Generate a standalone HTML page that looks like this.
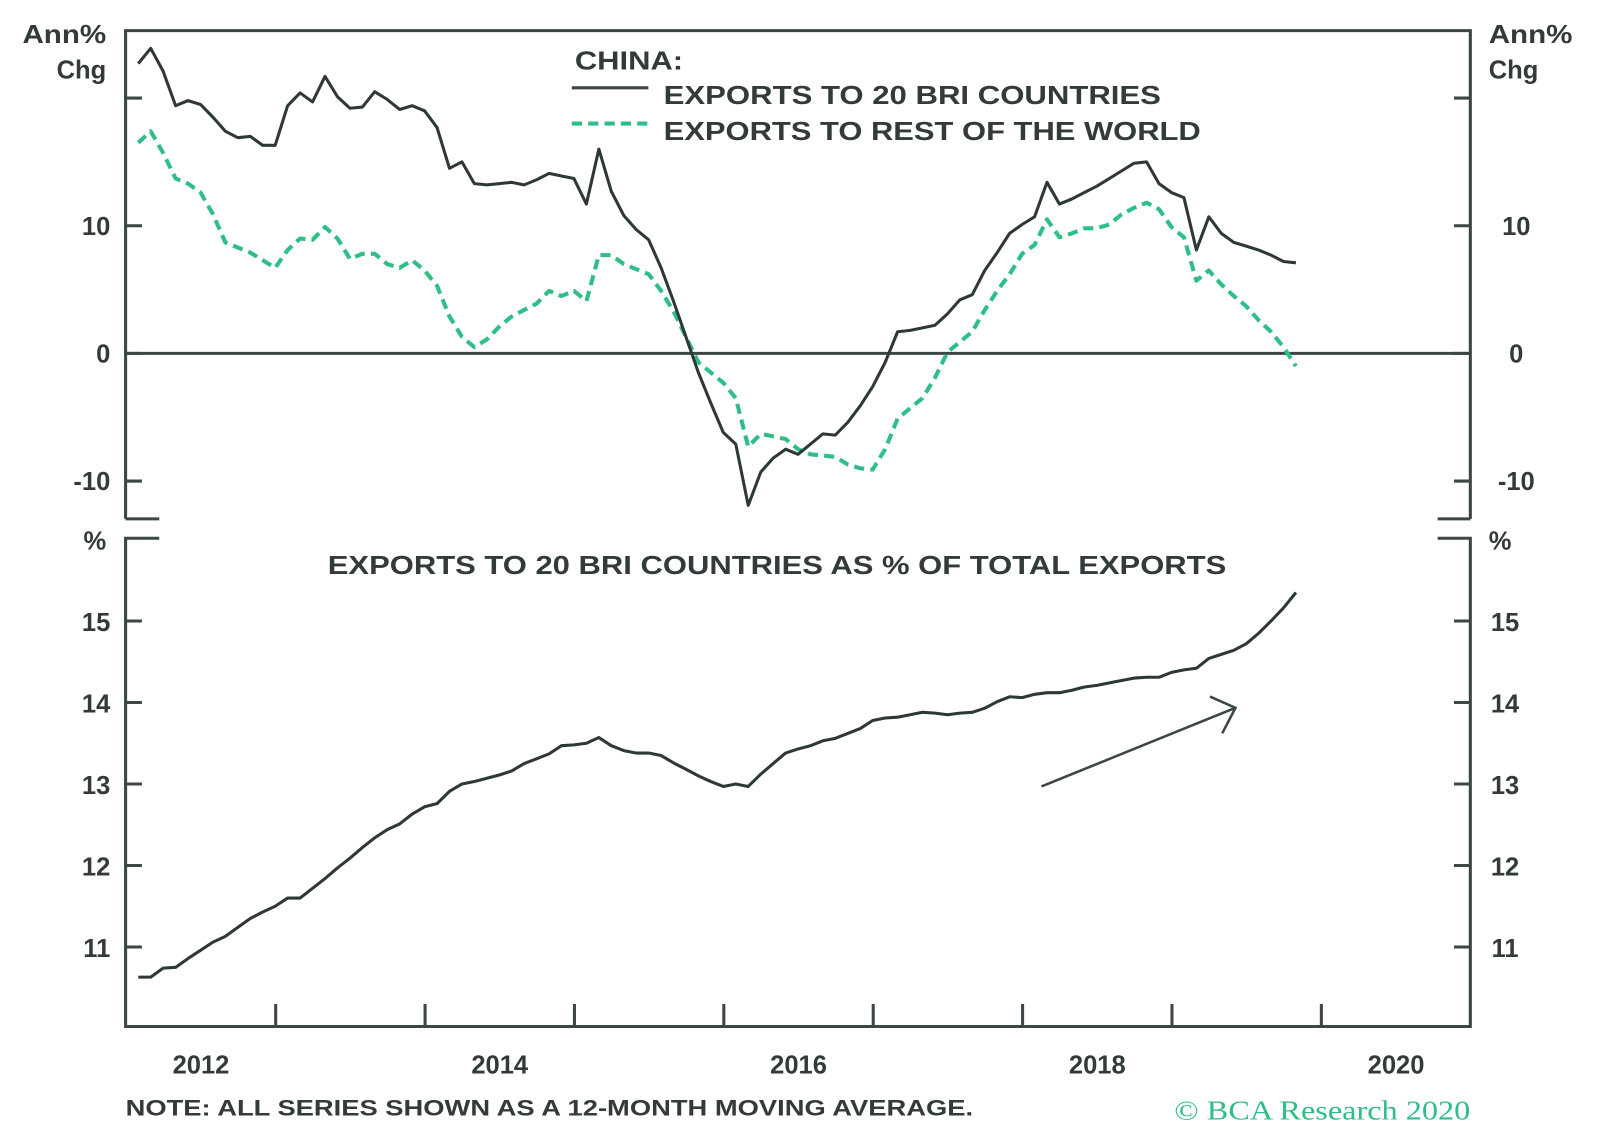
<!DOCTYPE html>
<html><head><meta charset="utf-8">
<style>
body{margin:0;background:#fff;}
svg{display:block;font-family:"Liberation Sans",sans-serif;}
.t{fill:#333a3a;font-weight:bold;font-size:25px;}
</style></head>
<body>
<svg id="chart" width="1600" height="1147" viewBox="0 0 1567 1123" preserveAspectRatio="none" xmlns="http://www.w3.org/2000/svg">
<g id="frame" stroke="#3c4646" stroke-width="3" fill="none">
<polyline points="123,508 123,30 1440,30 1440,508"/>
<line x1="123" y1="508" x2="156" y2="508"/><line x1="1408" y1="508" x2="1440" y2="508"/>
<polyline points="156,527 123,527 123,1005 1440,1005 1440,527 1408,527"/>
</g>
<g id="ticks" stroke="#3c4646" stroke-width="3"></g>
<line x1="123" y1="346" x2="1440" y2="346" stroke="#3c4646" stroke-width="3"/>
<g id="series"></g>
<g id="labels"></g>
<text class="t" x="104" y="42" text-anchor="end" textLength="82" lengthAdjust="spacingAndGlyphs">Ann%</text>
<text class="t" x="104" y="77" text-anchor="end">Chg</text>
<text class="t" x="1458" y="42" textLength="82" lengthAdjust="spacingAndGlyphs">Ann%</text>
<text class="t" x="1458" y="77">Chg</text>
<text class="t" x="104" y="538" text-anchor="end">%</text>
<text class="t" x="1458" y="538">%</text>
<g>
<text class="t" x="563" y="68" textLength="106" lengthAdjust="spacingAndGlyphs">CHINA:</text>
<line x1="560" y1="86" x2="635" y2="86" stroke="#3c4646" stroke-width="3"/>
<text class="t" x="650" y="102" textLength="487" lengthAdjust="spacingAndGlyphs">EXPORTS TO 20 BRI COUNTRIES</text>
<line x1="560" y1="121" x2="635" y2="121" stroke="#2fbf86" stroke-width="4" stroke-dasharray="10,6"/>
<text class="t" x="650" y="137" textLength="526" lengthAdjust="spacingAndGlyphs">EXPORTS TO REST OF THE WORLD</text>
</g>
<text class="t" x="321" y="562" textLength="880" lengthAdjust="spacingAndGlyphs">EXPORTS TO 20 BRI COUNTRIES AS % OF TOTAL EXPORTS</text>
<g stroke="#3c4646" stroke-width="2.5" fill="none">
<line x1="1020" y1="770" x2="1210" y2="693"/>
<polyline points="1185,682 1210,693 1197,718"/>
</g>
<text x="123" y="1092" fill="#333a3a" font-weight="bold" font-size="22" textLength="830" lengthAdjust="spacingAndGlyphs">NOTE: ALL SERIES SHOWN AS A 12-MONTH MOVING AVERAGE.</text>
<text x="1150" y="1096" fill="#2fbf86" font-family="Liberation Serif, serif" font-size="27" textLength="290" lengthAdjust="spacingAndGlyphs">© BCA Research 2020</text>
</svg>
<script>
const briGrowth=[22.7,23.9,22.1,19.4,19.8,19.5,18.5,17.4,16.9,17.0,16.3,16.3,19.4,20.4,19.7,21.7,20.1,19.2,19.3,20.5,19.9,19.1,19.4,19.0,17.7,14.5,15.0,13.3,13.2,13.3,13.4,13.2,13.6,14.1,13.9,13.7,11.7,16.0,12.7,10.8,9.7,8.9,6.7,4.1,1.3,-1.5,-3.9,-6.2,-7.1,-11.9,-9.3,-8.2,-7.5,-7.9,-7.1,-6.3,-6.4,-5.4,-4.1,-2.6,-0.7,1.7,1.8,2.0,2.2,3.1,4.2,4.6,6.5,7.9,9.4,10.1,10.7,13.4,11.7,12.1,12.6,13.1,13.7,14.3,14.9,15.0,13.3,12.6,12.2,8.1,10.7,9.4,8.7,8.4,8.1,7.7,7.2,7.1];
const rowGrowth=[16.5,17.4,15.7,13.7,13.3,12.6,10.9,8.7,8.3,7.9,7.3,6.7,8.1,9.0,8.9,9.9,9.0,7.4,7.8,7.8,7.0,6.7,7.3,6.5,5.3,2.9,1.3,0.5,1.1,2.1,2.9,3.4,3.9,4.9,4.5,4.9,4.1,7.7,7.7,7.0,6.6,6.2,4.9,3.3,1.3,-0.7,-1.5,-2.3,-3.5,-7.3,-6.3,-6.5,-6.7,-7.5,-7.9,-8.0,-8.1,-8.7,-9.0,-9.1,-7.5,-5.1,-4.3,-3.5,-1.9,0.1,0.9,1.7,3.4,4.9,6.2,7.8,8.5,10.5,9.1,9.4,9.8,9.8,10.1,10.9,11.4,11.8,11.3,9.9,9.1,5.7,6.5,5.4,4.5,3.7,2.6,1.7,0.5,-1.0];
const briShare=[10.63,10.63,10.74,10.75,10.86,10.96,11.06,11.13,11.24,11.35,11.43,11.50,11.60,11.60,11.72,11.84,11.97,12.09,12.22,12.34,12.44,12.51,12.63,12.72,12.76,12.91,13.00,13.03,13.07,13.11,13.16,13.25,13.31,13.37,13.47,13.48,13.50,13.57,13.47,13.41,13.38,13.38,13.35,13.26,13.18,13.10,13.03,12.97,13.00,12.97,13.12,13.25,13.38,13.43,13.47,13.53,13.56,13.62,13.68,13.78,13.81,13.82,13.85,13.88,13.87,13.85,13.87,13.88,13.93,14.01,14.07,14.06,14.10,14.12,14.12,14.15,14.19,14.21,14.24,14.27,14.30,14.31,14.31,14.37,14.40,14.42,14.54,14.59,14.64,14.72,14.85,15.00,15.16,15.35];
const startYear=2012.08;
const topTicks=[20,10,0,-10];
const topTickLabels=["","10","0","-10"];
const bottomTicks=[15,14,13,12,11];
const bottomTickLabels=["15","14","13","12","11"];
const yearTicks=[2013,2014,2015,2016,2017,2018,2019,2020];
const yearLabels=[2012,2014,2016,2018,2020];

const NS="http://www.w3.org/2000/svg";
const x=t=>123.7+146.3*(t-2012);
const yTop=v=>346-12.5*v;
const yBot=v=>608-79.8*(v-15);
const tAt=i=>startYear+i/12;
function mk(tag,attrs,parent,text){const e=document.createElementNS(NS,tag);for(const k in attrs)e.setAttribute(k,attrs[k]);if(text!==undefined)e.textContent=text;parent.appendChild(e);return e;}
const ticks=document.getElementById('ticks'),labels=document.getElementById('labels'),series=document.getElementById('series');
topTicks.forEach((v,i)=>{
 let a=mk('line',{x1:123,x2:139,y1:yTop(v),y2:yTop(v)},ticks);
 
 
 let b=mk('line',{x1:1424,x2:1440,y1:yTop(v),y2:yTop(v)},ticks);
 
 
 if(topTickLabels[i]){
  let l=mk('text',{x:108,y:yTop(v)+9,'text-anchor':'end','class':'t'},labels,topTickLabels[i]);
  
  
  let r=mk('text',{x:1485,y:yTop(v)+9,'text-anchor':'middle','class':'t'},labels,topTickLabels[i]);
  
  
 }
});
bottomTicks.forEach((v,i)=>{
 let a=mk('line',{x1:123,x2:139,y1:yBot(v),y2:yBot(v)},ticks);
 
 
 let b=mk('line',{x1:1424,x2:1440,y1:yBot(v),y2:yBot(v)},ticks);
 
 
 let l=mk('text',{x:108,y:yBot(v)+10,'text-anchor':'end','class':'t'},labels,bottomTickLabels[i]);
 
 
 let r=mk('text',{x:1474,y:yBot(v)+10,'text-anchor':'middle','class':'t'},labels,bottomTickLabels[i]);
 
 
});
yearTicks.forEach(t=>{
 let a=mk('line',{x1:x(t),x2:x(t),y1:1005,y2:983},ticks);
 
 
});
yearLabels.forEach(t=>{
 let l=mk('text',{x:x(t+0.5),y:1051,'text-anchor':'middle','class':'t'},labels,String(t));
 
 
});
function line(arr,yf,attrs,name){
 const pts=arr.map((v,i)=>x(tAt(i)).toFixed(1)+','+yf(v).toFixed(1)).join(' ');
 const p=mk('polyline',Object.assign({points:pts,fill:'none','stroke-linejoin':'round'},attrs),series);
 
 
}
line(rowGrowth,yTop,{stroke:'#2fbf86','stroke-width':4,'stroke-dasharray':'10,6'},'rest-of-world-line');
line(briGrowth,yTop,{stroke:'#2f3838','stroke-width':3},'bri-exports-line');
line(briShare,yBot,{stroke:'#2f3838','stroke-width':3},'bri-share-line');
</script>
</body></html>
